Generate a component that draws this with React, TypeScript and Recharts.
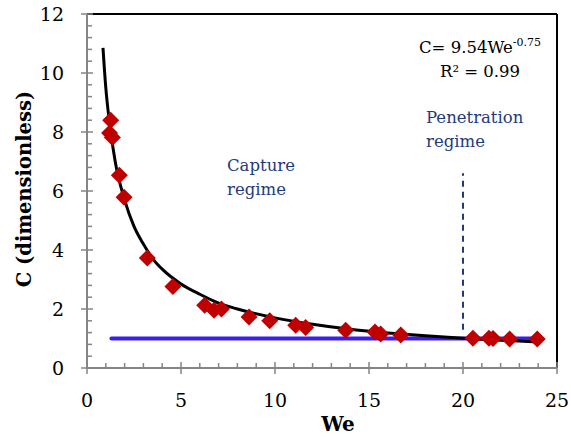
import React from "react";
import { ComposedChart, XAxis, YAxis, Scatter, Line, ReferenceLine } from "recharts";

// Measured data points (We, C)
const weValues = [1.26, 1.2, 1.35, 1.72, 1.97, 3.21, 4.57, 6.26, 6.76, 7.15, 8.62, 9.72, 11.1, 11.63, 13.76, 15.32, 15.62, 16.69, 20.53, 21.38, 21.6, 22.48, 23.95];
const cValues = [8.4, 7.97, 7.81, 6.53, 5.79, 3.73, 2.76, 2.13, 1.96, 2.0, 1.73, 1.6, 1.45, 1.37, 1.28, 1.22, 1.15, 1.12, 1.01, 1.01, 1.0, 0.98, 0.98];

// Fit curve
const fitWe = [0.85, 1, 1.2, 1.5, 2, 2.5, 3, 3.5, 4, 5, 6, 7, 8, 10, 12, 14, 16, 18, 20, 22, 24];
const fitC = [10.85, 9.5, 8.3, 7.0, 5.7, 4.8, 4.2, 3.7, 3.35, 2.85, 2.5, 2.2, 2.0, 1.7, 1.48, 1.31, 1.19, 1.09, 1.01, 0.94, 0.88];

// Horizontal blue line (C = 1)
const blueWe = [1.3, 23.7];
const blueC = [1.0, 1.0];

// Regime boundary (dashed)
const boundaryWe = 20;
const boundaryC = [1.3, 6.6];

// Axis ticks
const xMajorTicks = [0, 5, 10, 15, 20, 25];
const xAllTicks = [0, 1, 2, 3, 4, 5, 6, 7, 8, 9, 10, 11, 12, 13, 14, 15, 16, 17, 18, 19, 20, 21, 22, 23, 24, 25];
const yMajorTicks = [0, 2, 4, 6, 8, 10, 12];
const yAllTicks = [0, 0.4, 0.8, 1.2, 1.6, 2, 2.4, 2.8, 3.2, 3.6, 4, 4.4, 4.8, 5.2, 5.6, 6, 6.4, 6.8, 7.2, 7.6, 8, 8.4, 8.8, 9.2, 9.6, 10, 10.4, 10.8, 11.2, 11.6, 12];

const scatterData = weValues.map((x, i) => ({ x, y: cValues[i] }));
const fitData = fitWe.map((x, i) => ({ x, y: fitC[i] }));
const blueData = blueWe.map((x, i) => ({ x, y: blueC[i] }));

const FONT = "DejaVu Serif";
const AXIS_GREY = "#858585";
const NAVY = "#1f3b7c";

const isMajor = (v: number, list: number[]) => list.some((m) => Math.abs(m - v) < 1e-6);

const XTick = (props: any) => {
  const { x, y, payload } = props;
  const v = payload.value;
  if (isMajor(v, xMajorTicks)) {
    return (
      <g>
        <line x1={x} x2={x} y1={y - 6} y2={y + 6} stroke={AXIS_GREY} strokeWidth={1.5} />
        <text x={x} y={y + 39} textAnchor="middle" fontFamily={FONT} fontSize={19} fill="#000">
          {v}
        </text>
      </g>
    );
  }
  return <line x1={x} x2={x} y1={y - 5} y2={y} stroke={AXIS_GREY} strokeWidth={1.5} />;
};

const YTick = (props: any) => {
  const { x, y, payload } = props;
  const v = payload.value;
  if (isMajor(v, yMajorTicks)) {
    return (
      <g>
        <line x1={x - 6} x2={x + 6} y1={y} y2={y} stroke={AXIS_GREY} strokeWidth={1.5} />
        <text x={x - 23} y={y + 7} textAnchor="end" fontFamily={FONT} fontSize={19} fill="#000">
          {Math.round(v)}
        </text>
      </g>
    );
  }
  return <line x1={x} x2={x + 5} y1={y} y2={y} stroke={AXIS_GREY} strokeWidth={1.5} />;
};

const Diamond = (props: any) => {
  const { cx, cy } = props;
  const s = 8.5;
  return (
    <polygon
      points={`${cx},${cy - s} ${cx + s},${cy} ${cx},${cy + s} ${cx - s},${cy}`}
      fill="#c00000"
    />
  );
};

export default function App() {
  return (
    <div style={{ position: "absolute", left: 0, top: 0, width: 571, height: 437, background: "#fff" }}>
      <ComposedChart
        width={571}
        height={437}
        margin={{ top: 14, right: 14, bottom: 0, left: 0 }}
      >
        <XAxis
          dataKey="x"
          type="number"
          domain={[0, 25]}
          ticks={xAllTicks}
          interval={0}
          height={69}
          tick={<XTick />}
          tickLine={false}
          tickSize={0}
          tickMargin={0}
          axisLine={{ stroke: AXIS_GREY, strokeWidth: 2 }}
          allowDataOverflow
        />
        <YAxis
          dataKey="y"
          type="number"
          domain={[0, 12]}
          ticks={yAllTicks}
          interval={0}
          width={87}
          tick={<YTick />}
          tickLine={false}
          tickSize={0}
          tickMargin={0}
          axisLine={{ stroke: AXIS_GREY, strokeWidth: 2 }}
          allowDataOverflow
        />
        <ReferenceLine y={12} stroke="#000" strokeWidth={2} />
        <ReferenceLine x={25} stroke="#000" strokeWidth={2} />
        <Line
          data={blueData}
          dataKey="y"
          type="linear"
          stroke="#3c1fee"
          strokeWidth={4}
          strokeLinecap="round"
          dot={false}
          activeDot={false}
          isAnimationActive={false}
        />
        <ReferenceLine
          segment={[
            { x: boundaryWe, y: boundaryC[0] },
            { x: boundaryWe, y: boundaryC[1] },
          ]}
          stroke={NAVY}
          strokeWidth={2}
          strokeDasharray="6 5"
        />
        <Scatter data={scatterData} dataKey="y" shape={<Diamond />} isAnimationActive={false} />
        <Line
          data={fitData}
          dataKey="y"
          type="monotone"
          stroke="#000"
          strokeWidth={3}
          dot={false}
          activeDot={false}
          isAnimationActive={false}
        />
      </ComposedChart>
      <svg
        width={571}
        height={437}
        style={{ position: "absolute", left: 0, top: 0, pointerEvents: "none" }}
      >
        <text x={24} y={189} transform="rotate(-90 24 189)" textAnchor="middle" dominantBaseline="central" fontFamily={FONT} fontSize={19.5} fontWeight="bold" fill="#000">
          C (dimensionless)
        </text>
        <text x={338} y={431} textAnchor="middle" fontFamily={FONT} fontSize={20} fontWeight="bold" fill="#000">
          We
        </text>
        <text x={227} y={171} fontFamily={FONT} fontSize={16.5} fill={NAVY}>Capture</text>
        <text x={227} y={195} fontFamily={FONT} fontSize={16.5} fill={NAVY}>regime</text>
        <text x={426} y={123} fontFamily={FONT} fontSize={16.5} fill={NAVY}>Penetration</text>
        <text x={426} y={147} fontFamily={FONT} fontSize={16.5} fill={NAVY}>regime</text>
        <text x={419} y={53} fontFamily={FONT} fontSize={16.5} fill="#000">
          C= 9.54We
          <tspan fontSize={11} dy={-7}>-0.75</tspan>
        </text>
        <text x={480} y={77} textAnchor="middle" fontFamily={FONT} fontSize={16.5} fill="#000">
          R² = 0.99
        </text>
      </svg>
    </div>
  );
}
